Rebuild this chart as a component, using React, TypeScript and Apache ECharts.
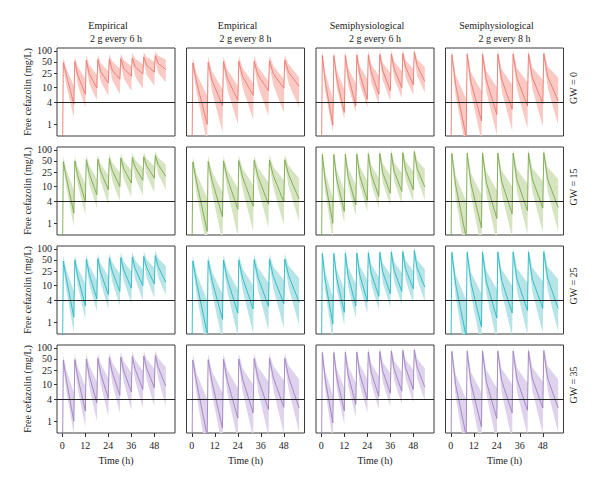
import React, { useEffect, useRef } from "react";
import * as echarts from "echarts";

// Time grids (h): start, then for each dose: peak, mid-interval, trough
const t6h = [0, 0.5, 2, 6, 6.5, 8, 12, 12.5, 14, 18, 18.5, 20, 24, 24.5, 26, 30, 30.5, 32, 36, 36.5, 38, 42, 42.5, 44, 48, 48.5, 50, 54];
const t8h = [0, 0.5, 2.5, 8, 8.5, 10.5, 16, 16.5, 18.5, 24, 24.5, 26.5, 32, 32.5, 34.5, 40, 40.5, 42.5, 48, 48.5, 50.5, 56];

// concentration before first dose (below axis)
const startConc = 0.05;

// values per dose: peak, mid, trough  (mg/L)
// GW = 0
const e6gw0Med = [48, 23, 3.5, 52, 22, 6.6, 56, 24, 9.8, 58, 27, 13.5, 60, 30, 17, 62, 34, 20.5, 64, 37, 23.5, 68, 41, 26.5, 74, 46, 31];
const e6gw0Lo = [36, 12, 1.5, 39, 12, 2.8, 42, 13, 4.5, 44, 15, 6, 45, 16, 6.6, 46, 18, 8.2, 48, 20, 9.1, 51, 22, 11.2, 55, 25, 13.9];
const e6gw0Hi = [68, 34, 11, 72, 38, 17, 76, 42, 22, 80, 47, 28, 82, 52, 33, 85, 57, 38, 88, 62, 43, 92, 68, 50, 98, 74, 58];
const e8gw0Med = [47, 14, 1.0, 49, 16, 3.2, 51, 18, 4.5, 52, 20, 6.2, 52, 22, 8.2, 54, 24, 9.6, 56, 26, 10.8];
const e8gw0Lo = [35, 7, 0.3, 37, 8, 0.6, 38, 9, 1.0, 39, 10, 1.37, 39, 11, 1.7, 40, 12, 2.1, 42, 13, 2.8];
const e8gw0Hi = [68, 24, 6, 70, 28, 9, 72, 31, 11, 74, 34, 13, 75, 37, 15, 77, 40, 17, 80, 43, 19];
const s6gw0Med = [75, 15, 0.95, 75, 18, 2.1, 75, 21, 3.2, 77, 24, 4.8, 78, 27, 6.6, 80, 30, 8.2, 82, 33, 10, 85, 36, 12, 92, 40, 14.8];
const s6gw0Lo = [58, 8, 0.6, 58, 10, 1.37, 58, 11, 2.1, 60, 13, 2.8, 60, 14, 3.5, 62, 16, 4.35, 63, 18, 5.1, 65, 19, 6.3, 70, 21, 7.4];
const s6gw0Hi = [100, 26, 5, 100, 30, 9, 102, 35, 13, 104, 40, 17, 105, 44, 21, 106, 48, 25, 108, 52, 28, 110, 56, 32, 115, 60, 36];
const s8gw0Med = [80, 12, 0.45, 82, 14, 1.23, 82, 16, 1.87, 82, 17, 2.57, 82, 18, 3.2, 83, 19, 3.7, 84, 20, 4.35];
const s8gw0Lo = [62, 6, 0.2, 63, 7, 0.35, 63, 8, 0.5, 63, 8.5, 0.65, 63, 9, 0.75, 64, 9.5, 0.85, 65, 10, 0.95];
const s8gw0Hi = [105, 22, 5, 106, 26, 8, 106, 29, 10, 107, 32, 12, 107, 34, 14, 108, 36, 16, 110, 38, 19];
// GW = 15
const e6gw15Med = [48, 18, 1.9, 50, 20, 3.9, 54, 23, 6, 56, 26, 8.2, 58, 28, 10, 60, 31, 12.5, 62, 34, 14.8, 65, 37, 17, 70, 40, 19];
const e6gw15Lo = [36, 10, 0.8, 38, 11, 1.7, 41, 12, 2.6, 42, 14, 3.2, 44, 15, 3.9, 45, 17, 5.1, 47, 18, 5.7, 49, 20, 6.9, 52, 22, 8.2];
const e6gw15Hi = [68, 30, 8, 70, 34, 12, 74, 38, 16, 77, 42, 20, 80, 46, 24, 82, 50, 28, 85, 54, 32, 88, 58, 36, 94, 62, 40];
const e8gw15Med = [47, 13, 0.6, 48, 15, 1.5, 50, 17, 2.4, 51, 18, 2.9, 52, 19, 3.3, 53, 20, 3.8, 54, 21, 4.6];
const e8gw15Lo = [35, 6, 0.2, 36, 7, 0.3, 37, 8, 0.45, 38, 8.5, 0.6, 39, 9, 0.75, 40, 9.5, 0.9, 40, 10, 1.1];
const e8gw15Hi = [68, 22, 5, 69, 26, 7, 71, 29, 9, 72, 31, 11, 73, 33, 13, 74, 35, 15, 76, 37, 17];
const s6gw15Med = [75, 14, 1.0, 75, 16, 2.1, 76, 18, 3.2, 77, 20, 4.2, 78, 22, 5.4, 80, 24, 6.6, 82, 26, 7.4, 84, 28, 8.2, 90, 31, 9.7];
const s6gw15Lo = [58, 7, 0.35, 58, 9, 1.0, 59, 10, 1.6, 60, 11, 2.1, 60, 12, 2.6, 62, 13, 3.0, 63, 14, 3.4, 65, 15, 3.8, 69, 17, 4.3];
const s6gw15Hi = [100, 25, 5, 100, 29, 8, 102, 33, 11, 103, 37, 14, 104, 40, 17, 106, 43, 20, 108, 46, 23, 110, 49, 26, 114, 52, 30];
const s8gw15Med = [80, 11, 0.4, 81, 12, 0.75, 82, 13, 1.35, 82, 14, 1.8, 82, 15, 2.2, 83, 16, 2.6, 84, 16, 2.7];
const s8gw15Lo = [62, 5, 0.1, 62, 5.5, 0.2, 63, 6, 0.3, 63, 6.5, 0.4, 63, 7, 0.5, 64, 7.5, 0.55, 65, 7.5, 0.6];
const s8gw15Hi = [104, 20, 4, 105, 23, 6, 106, 26, 8, 106, 28, 10, 107, 30, 12, 108, 32, 14, 110, 34, 16];
// GW = 25
const e6gw25Med = [47, 16, 1.37, 50, 18, 2.8, 52, 21, 4.35, 54, 23, 5.7, 56, 25, 6.9, 58, 27, 8.5, 60, 29, 10, 62, 31, 11.2, 66, 33, 12.5];
const e6gw25Lo = [35, 8, 0.5, 37, 10, 1.2, 39, 11, 2.0, 40, 12, 2.3, 42, 13, 2.8, 43, 14, 3.2, 45, 15, 3.9, 46, 16, 4.6, 49, 17, 5.5];
const e6gw25Hi = [67, 28, 7, 70, 32, 11, 73, 36, 14, 76, 40, 18, 78, 43, 21, 81, 46, 24, 84, 49, 27, 86, 52, 30, 90, 56, 34];
const e8gw25Med = [47, 12, 0.5, 48, 14, 1.2, 50, 15, 1.8, 50, 16, 2.3, 51, 17, 2.7, 52, 18, 3.2, 53, 19, 3.5];
const e8gw25Lo = [35, 5.5, 0.15, 36, 6.5, 0.3, 37, 7, 0.4, 37, 7.5, 0.5, 38, 8, 0.6, 39, 8.5, 0.7, 39, 9, 0.8];
const e8gw25Hi = [68, 21, 4, 69, 24, 6, 71, 27, 8, 71, 29, 10, 72, 31, 12, 73, 33, 14, 75, 35, 16];
const s6gw25Med = [75, 14, 0.9, 75, 16, 1.87, 76, 18, 2.8, 77, 20, 3.7, 78, 22, 5.1, 80, 24, 6, 82, 26, 6.9, 84, 28, 8.2, 90, 30, 9.1];
const s6gw25Lo = [58, 7, 0.3, 58, 8, 0.8, 59, 9, 1.3, 60, 10, 1.8, 60, 11, 2.2, 62, 12, 2.6, 63, 13, 3.0, 65, 14, 3.3, 69, 15, 3.7];
const s6gw25Hi = [100, 24, 5, 100, 28, 8, 102, 32, 11, 103, 36, 14, 104, 39, 17, 106, 42, 20, 108, 45, 22, 110, 48, 25, 114, 51, 28];
const s8gw25Med = [80, 11, 0.4, 81, 12, 0.75, 82, 13, 1.3, 82, 14, 1.8, 82, 15, 2.1, 83, 15, 2.4, 84, 16, 2.4];
const s8gw25Lo = [62, 5, 0.1, 62, 5.5, 0.2, 63, 6, 0.3, 63, 6.5, 0.4, 63, 7, 0.45, 64, 7, 0.5, 65, 7.5, 0.55];
const s8gw25Hi = [104, 20, 4, 105, 23, 6, 106, 26, 8, 106, 28, 10, 107, 30, 12, 108, 31, 13, 110, 33, 15];
// GW = 35
const e6gw35Med = [46, 14, 1.0, 48, 16, 1.9, 50, 18, 3.2, 52, 20, 4.2, 54, 22, 5.1, 56, 24, 6.3, 58, 26, 7.4, 60, 28, 8.2, 62, 30, 9.1];
const e6gw35Lo = [34, 7, 0.45, 36, 8, 0.7, 37, 9, 1.0, 39, 10, 1.35, 40, 11, 1.7, 42, 12, 2.0, 43, 13, 2.3, 45, 14, 2.5, 46, 15, 2.6];
const e6gw35Hi = [66, 26, 6, 68, 30, 9, 71, 34, 12, 74, 38, 15, 76, 41, 18, 79, 44, 21, 82, 47, 24, 84, 50, 27, 87, 53, 30];
const e8gw35Med = [47, 11, 0.4, 48, 12, 0.65, 49, 13, 1.23, 50, 14, 1.7, 51, 15, 2.1, 52, 16, 2.4, 52, 16, 2.3];
const e8gw35Lo = [35, 5, 0.1, 36, 5.5, 0.2, 36, 6, 0.3, 37, 6.5, 0.35, 38, 7, 0.4, 39, 7.5, 0.45, 39, 7.5, 0.5];
const e8gw35Hi = [68, 20, 4, 69, 23, 6, 70, 26, 8, 71, 28, 10, 72, 30, 12, 73, 32, 13, 74, 33, 14];
const s6gw35Med = [75, 14, 0.9, 75, 16, 1.9, 76, 18, 2.9, 77, 20, 3.8, 78, 22, 4.8, 80, 24, 5.8, 82, 26, 6.6, 84, 28, 7.4, 88, 30, 8.5];
const s6gw35Lo = [58, 7, 0.3, 58, 8, 0.8, 59, 9, 1.3, 60, 10, 1.7, 60, 11, 2.1, 62, 12, 2.5, 63, 13, 2.9, 65, 14, 3.2, 68, 15, 3.6];
const s6gw35Hi = [100, 24, 5, 100, 28, 8, 102, 32, 11, 103, 36, 14, 104, 39, 17, 106, 42, 20, 108, 45, 22, 110, 48, 25, 112, 51, 28];
const s8gw35Med = [80, 10, 0.4, 81, 11, 0.7, 82, 12, 1.2, 82, 13, 1.7, 82, 14, 2.0, 83, 15, 2.3, 84, 15, 2.3];
const s8gw35Lo = [62, 4.5, 0.1, 62, 5, 0.15, 63, 5.5, 0.25, 63, 6, 0.3, 63, 6.5, 0.4, 64, 7, 0.45, 65, 7, 0.5];
const s8gw35Hi = [104, 19, 4, 105, 22, 6, 106, 25, 8, 106, 27, 10, 107, 29, 11, 108, 30, 12, 110, 32, 14];

const regimenLabels = ["Empirical", "Empirical", "Semiphysiological", "Semiphysiological"];
const doseLabels = ["2 g every 6 h", "2 g every 8 h", "2 g every 6 h", "2 g every 8 h"];
const gwLabels = ["GW = 0", "GW = 15", "GW = 25", "GW = 35"];
const yTickValues = [1, 4, 10, 25, 50, 100];
const xTickValues = [0, 12, 24, 36, 48];
const thresholdConc = 4;
const columnTimes = [t6h, t8h, t6h, t8h];

const panelRows = [
  [[e6gw0Med, e6gw0Lo, e6gw0Hi], [e8gw0Med, e8gw0Lo, e8gw0Hi], [s6gw0Med, s6gw0Lo, s6gw0Hi], [s8gw0Med, s8gw0Lo, s8gw0Hi]],
  [[e6gw15Med, e6gw15Lo, e6gw15Hi], [e8gw15Med, e8gw15Lo, e8gw15Hi], [s6gw15Med, s6gw15Lo, s6gw15Hi], [s8gw15Med, s8gw15Lo, s8gw15Hi]],
  [[e6gw25Med, e6gw25Lo, e6gw25Hi], [e8gw25Med, e8gw25Lo, e8gw25Hi], [s6gw25Med, s6gw25Lo, s6gw25Hi], [s8gw25Med, s8gw25Lo, s8gw25Hi]],
  [[e6gw35Med, e6gw35Lo, e6gw35Hi], [e8gw35Med, e8gw35Lo, e8gw35Hi], [s6gw35Med, s6gw35Lo, s6gw35Hi], [s8gw35Med, s8gw35Lo, s8gw35Hi]],
];

const lineColors = ["#E97A72", "#7AA94C", "#26BAC3", "#9E82C0"];
const bandColors = ["#FAC9C3", "#D6E4C2", "#B7E4E7", "#DED2EC"];

const FONT = "'Liberation Serif', 'DejaVu Serif', serif";
const L = (v: number) => Math.log10(v);

function buildOption() {
  const grids: any[] = [];
  const xAxes: any[] = [];
  const yAxes: any[] = [];
  const series: any[] = [];
  const graphics: any[] = [];
  const left0 = 57, top0 = 48, colStep = 129.5, rowStep = 99, w = 118, h = 88;

  for (let r = 0; r < 4; r++) {
    for (let c = 0; c < 4; c++) {
      const idx = r * 4 + c;
      grids.push({
        left: left0 + c * colStep, top: top0 + r * rowStep, width: w, height: h,
        show: true, borderColor: "#3a3a3a", borderWidth: 1, backgroundColor: "transparent",
      });
      xAxes.push({
        type: "value", gridIndex: idx, min: -2.8, max: 58.8, position: "bottom",
        axisLine: { show: false, onZero: false }, splitLine: { show: false },
        axisTick: { show: r === 3, customValues: xTickValues, length: 4, lineStyle: { color: "#333" } },
        axisLabel: { show: r === 3, customValues: xTickValues, margin: 7, color: "#222", fontFamily: FONT, fontSize: 10 },
      });
      yAxes.push({
        type: "value", gridIndex: idx, min: -0.32, max: 2.08, position: "left",
        axisLine: { show: false, onZero: false }, splitLine: { show: false },
        axisTick: { show: c === 0, customValues: yTickValues.map(L), length: 3, lineStyle: { color: "#333" } },
        axisLabel: {
          show: c === 0, customValues: yTickValues.map(L), margin: 5, color: "#222", fontFamily: FONT, fontSize: 10,
          formatter: (v: number) => String(Math.round(Math.pow(10, v))),
        },
      });
      const times = columnTimes[c];
      const [medF, loF, hiF] = panelRows[r][c];
      const med = [startConc, ...medF];
      const lo = [startConc, ...loF];
      const hi = [startConc, ...hiF];
      const band = bandColors[r];
      series.push({
        type: "custom", xAxisIndex: idx, yAxisIndex: idx, clip: true, silent: true,
        data: [[times[0], L(hi[0])]],
        renderItem: (params: any, api: any) => {
          const pts: number[][] = [];
          for (let i = 0; i < times.length; i++) pts.push(api.coord([times[i], L(hi[i])]));
          for (let i = times.length - 1; i >= 0; i--) pts.push(api.coord([times[i], L(lo[i])]));
          const cs = params.coordSys;
          return {
            type: "polygon",
            shape: { points: pts },
            style: { fill: band },
            clipPath: { type: "rect", shape: { x: cs.x, y: cs.y, width: cs.width, height: cs.height } },
          };
        },
      });
      series.push({
        type: "line", xAxisIndex: idx, yAxisIndex: idx, clip: true, silent: true,
        symbol: "none", showSymbol: false,
        data: times.map((t, i) => [t, L(med[i])]),
        lineStyle: { color: lineColors[r], width: 0.9 },
        itemStyle: { color: lineColors[r] },
        markLine: {
          silent: true, symbol: ["none", "none"], label: { show: false },
          lineStyle: { color: "#222", width: 1, type: "solid" },
          data: [{ yAxis: L(thresholdConc) }],
        },
      });
    }
  }

  const textStyle = (text: string) => ({ text, fill: "#222", font: `10px ${FONT}`, textAlign: "center", textVerticalAlign: "middle" });
  for (let c = 0; c < 4; c++) {
    const cx = left0 + c * colStep + w / 2;
    graphics.push({ type: "text", x: cx - 8, y: 25.5, style: textStyle(regimenLabels[c]) });
    graphics.push({ type: "text", x: cx, y: 38.5, style: textStyle(doseLabels[c]) });
    graphics.push({ type: "text", x: cx, y: 460, style: textStyle("Time (h)") });
  }
  for (let r = 0; r < 4; r++) {
    const cy = top0 + r * rowStep + h / 2;
    graphics.push({ type: "text", x: 27, y: cy, rotation: Math.PI / 2, style: textStyle("Free cefazolin (mg/L)") });
    graphics.push({ type: "text", x: 573, y: cy - 4, rotation: Math.PI / 2, style: textStyle(gwLabels[r]) });
  }

  return {
    animation: false,
    backgroundColor: "#ffffff",
    textStyle: { fontFamily: FONT },
    grid: grids,
    xAxis: xAxes,
    yAxis: yAxes,
    series,
    graphic: graphics,
  };
}

export default function App() {
  const ref = useRef<HTMLDivElement>(null);
  useEffect(() => {
    if (!ref.current) return;
    const chart = echarts.init(ref.current, undefined, { renderer: "svg" });
    chart.setOption(buildOption() as any);
    return () => chart.dispose();
  }, []);
  return <div ref={ref} style={{ position: "fixed", left: 0, top: 0, width: 600, height: 487, background: "#fff" }} />;
}
